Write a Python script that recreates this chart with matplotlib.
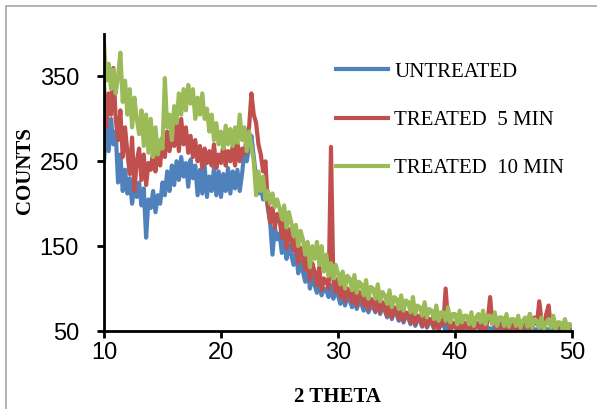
import numpy as np
import matplotlib
matplotlib.use("Agg")
import matplotlib.pyplot as plt
from matplotlib.patches import Rectangle

# ==========================================
# data (2-theta step 0.2, from 10 to 50)
# ==========================================
two_theta = np.round(np.arange(10.0, 50.01, 0.2), 1)

untreated = [
    250, 295, 262, 300, 270,   # 10
    285, 225, 258, 215, 240,   # 11
    212, 230, 200, 222, 208,   # 12
    225, 198, 218, 160, 205,   # 13
    195, 215, 190, 210, 200,   # 14
    225, 210, 238, 215, 245,   # 15
    222, 250, 228, 255, 232,   # 16
    248, 220, 252, 230, 245,   # 17
    210, 240, 212, 245, 208,   # 18
    232, 215, 242, 210, 238,   # 19
    208, 235, 215, 242, 212,   # 20
    238, 218, 240, 215, 235,   # 21
    262, 250, 268, 280, 255,   # 22
    230, 212, 222, 205, 215,   # 23
    195, 178, 140, 172, 158,   # 24
    165, 142, 160, 135, 152,   # 25
    140, 128, 146, 118, 132,   # 26
    120, 108, 126, 100, 114,   # 27
    104, 95, 108, 92, 100,     # 28
    98, 90, 104, 88, 96,       # 29
    92, 82, 96, 80, 90,        # 30
    86, 78, 92, 76, 84,        # 31
    82, 74, 88, 72, 80,        # 32
    78, 72, 100, 70, 80,       # 33
    74, 66, 80, 64, 72,        # 34
    70, 62, 76, 60, 68,        # 35
    66, 58, 72, 56, 64,        # 36
    62, 55, 68, 54, 60,        # 37
    60, 53, 66, 52, 58,        # 38
    57, 51, 63, 50, 56,        # 39
    56, 50, 62, 50, 55,        # 40
    54, 50, 60, 51, 56,        # 41
    55, 50, 58, 50, 54,        # 42
    53, 50, 57, 50, 54,        # 43
    52, 50, 56, 50, 53,        # 44
    52, 50, 55, 50, 52,        # 45
    53, 50, 55, 50, 52,        # 46
    52, 50, 54, 50, 52,        # 47
    52, 50, 54, 50, 51,        # 48
    51, 50, 53, 50, 51,        # 49
    51,                        # 50
]

treated_5 = [
    340, 290, 330, 305, 360,   # 10
    300, 275, 310, 255, 290,   # 11
    260, 235, 278, 215, 250,   # 12
    265, 228, 258, 222, 248,   # 13
    240, 262, 238, 270, 245,   # 14
    278, 255, 285, 262, 280,   # 15
    268, 295, 262, 300, 270,   # 16
    290, 260, 280, 255, 275,   # 17
    250, 268, 242, 265, 248,   # 18
    262, 245, 270, 242, 258,   # 19
    248, 270, 245, 262, 250,   # 20
    268, 245, 272, 250, 265,   # 21
    258, 280, 290, 330, 305,   # 22
    295, 270, 258, 238, 250,   # 23
    200, 178, 195, 172, 188,   # 24
    182, 160, 178, 148, 170,   # 25
    158, 145, 160, 130, 148,   # 26
    138, 122, 140, 110, 130,   # 27
    120, 104, 125, 98, 112,    # 28
    108, 100, 267, 110, 96,    # 29
    112, 90, 105, 85, 100,     # 30
    95, 84, 102, 80, 96,       # 31
    90, 80, 95, 76, 88,        # 32
    85, 74, 92, 72, 84,        # 33
    80, 68, 84, 66, 78,        # 34
    75, 64, 80, 62, 72,        # 35
    70, 60, 76, 58, 68,        # 36
    67, 56, 72, 55, 64,        # 37
    64, 54, 70, 52, 62,        # 38
    58, 100, 62, 50, 60,       # 39
    58, 50, 64, 48, 60,        # 40
    56, 49, 62, 50, 58,        # 41
    60, 50, 66, 52, 62,        # 42
    90, 58, 68, 50, 62,        # 43
    58, 48, 66, 50, 60,        # 44
    56, 50, 64, 48, 60,        # 45
    62, 52, 70, 54, 66,        # 46
    58, 85, 62, 52, 70,        # 47
    80, 55, 64, 50, 60,        # 48
    56, 50, 62, 48, 58,        # 49
    55,                        # 50
]

treated_10 = [
    390, 345, 365, 335, 358,   # 10
    330, 350, 378, 320, 345,   # 11
    305, 335, 290, 325, 300,   # 12
    282, 310, 268, 305, 260,   # 13
    300, 255, 290, 258, 275,   # 14
    265, 348, 290, 305, 275,   # 15
    315, 295, 330, 305, 335,   # 16
    310, 340, 318, 335, 300,   # 17
    325, 305, 330, 300, 312,   # 18
    285, 305, 275, 295, 270,   # 19
    285, 265, 292, 270, 288,   # 20
    268, 290, 272, 305, 275,   # 21
    290, 262, 285, 268, 250,   # 22
    210, 238, 215, 232, 205,   # 23
    215, 200, 212, 196, 205,   # 24
    195, 182, 198, 172, 190,   # 25
    178, 162, 175, 150, 168,   # 26
    158, 140, 155, 125, 150,   # 27
    135, 155, 128, 150, 120,   # 28
    140, 115, 130, 112, 128,   # 29
    118, 105, 120, 100, 115,   # 30
    112, 98, 116, 95, 108,     # 31
    105, 92, 110, 88, 102,     # 32
    100, 88, 105, 85, 96,      # 33
    92, 82, 98, 78, 90,        # 34
    88, 76, 92, 74, 86,        # 35
    84, 72, 90, 70, 80,        # 36
    78, 68, 84, 66, 76,        # 37
    74, 64, 80, 62, 72,        # 38
    72, 62, 78, 60, 70,        # 39
    70, 58, 74, 60, 68,        # 40
    68, 58, 72, 56, 66,        # 41
    70, 60, 74, 58, 68,        # 42
    68, 58, 72, 56, 66,        # 43
    66, 56, 70, 55, 64,        # 44
    64, 56, 68, 54, 62,        # 45
    66, 55, 70, 54, 64,        # 46
    62, 54, 66, 52, 60,        # 47
    64, 54, 68, 52, 60,        # 48
    60, 52, 64, 50, 58,        # 49
    56,                        # 50
]

series_names = ['UNTREATED', 'TREATED  5 MIN', 'TREATED  10 MIN']
series_colors = ['#4F81BD', '#C0504D', '#9BBB59']
x_ticks = [10, 20, 30, 40, 50]
y_ticks = [50, 150, 250, 350]

# ==========================================
# figure
# ==========================================
W, H = 597, 409
fig = plt.figure(figsize=(W / 100, H / 100), dpi=100)
ax = fig.add_axes([104 / W, 1 - 331 / H, (572 - 104) / W, (331 - 34) / H])

for yv, name, col in zip([untreated, treated_5, treated_10], series_names, series_colors):
    ax.plot(two_theta, yv, color=col, lw=3.0, label=name, solid_joinstyle='round')

ax.set_xlim(10, 50)
ax.set_ylim(50, 400)
ax.set_xticks(x_ticks)
ax.set_yticks(y_ticks)
ax.spines['top'].set_visible(False)
ax.spines['right'].set_visible(False)
for s in ['left', 'bottom']:
    ax.spines[s].set_linewidth(2)
ax.tick_params(direction='out', length=5, width=2,
               labelsize=17, labelfontfamily='Liberation Sans')
ax.tick_params(axis='y', pad=13)
ax.tick_params(axis='x', pad=3)

ax.set_xlabel('2 THETA', fontfamily='Liberation Serif', fontweight='bold', fontsize=15)
ax.set_ylabel('COUNTS', fontfamily='Liberation Serif', fontweight='bold', fontsize=15)
ax.xaxis.set_label_coords(0.5, -0.19)
ax.yaxis.set_label_coords(-0.148, 0.54)

ax.legend(loc='upper left', bbox_to_anchor=(336 / W, 1 - 62 / H),
          bbox_transform=fig.transFigure, frameon=False,
          prop={'family': 'Liberation Serif', 'size': 15},
          handlelength=2.5, handletextpad=0.3, labelspacing=1.38,
          borderpad=0, borderaxespad=0)

# grey chart-area border (only left and top show in the crop)
fig.patches.append(Rectangle((6 / W, -0.05), 1.0, 1.05 - 6 / H, transform=fig.transFigure,
                             fill=False, edgecolor='#A6A6A6', lw=1.2))

fig.savefig('out.png', dpi=100)
